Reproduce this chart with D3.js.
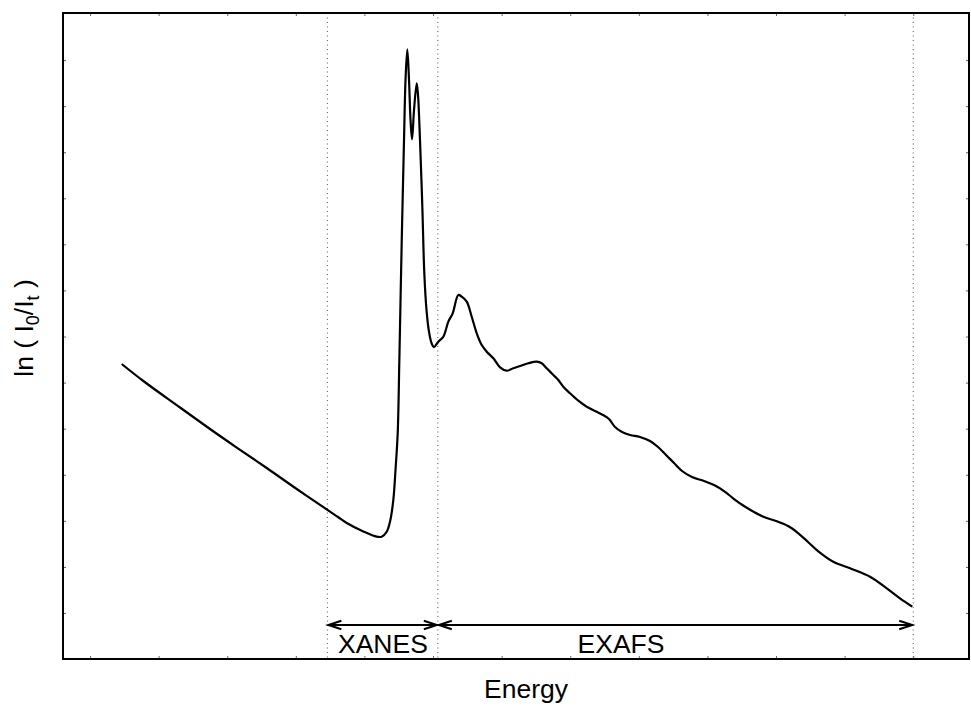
<!DOCTYPE html>
<html>
<head>
<meta charset="utf-8">
<script src="https://cdn.jsdelivr.net/npm/d3@7"></script>
<style>
  html, body { margin: 0; padding: 0; background: #fff; }
  svg { display: block; font-family: "Liberation Sans", Arial, Helvetica, sans-serif; }
</style>
</head>
<body>
<svg id="chart" width="971" height="706"></svg>
<script>
// Absorption spectrum: relative energy (eV) and ln(I0/It)
const energy = [
  46.2, 77.7, 131.2, 174.9, 213.8, 257.6, 301.3, 345.0, 361.5, 374.2,
  398.4, 417.9, 425.2, 432.5, 437.3, 442.1, 445.6, 448.5, 450.9, 454.4,
  457.7, 459.9, 462.5, 465.0, 467.2, 469.4, 472.3, 476.2, 478.1, 481.0,
  484.4, 487.3, 490.5, 494.2, 497.8, 501.4, 507.7, 515.0, 522.3, 528.7,
  536.9, 541.8, 549.1, 556.4, 563.7, 571.0, 578.3, 587.9, 597.7, 607.4,
  617.0, 626.8, 638.9, 651.2, 658.4, 665.7, 675.4, 682.6, 689.9, 699.7,
  711.8, 724.0, 736.1, 747.8, 756.5, 765.3, 775.5, 787.2, 801.7, 816.3,
  828.0, 839.6, 851.3, 863.0, 877.5, 895.0, 909.6, 924.2, 938.8, 953.3,
  967.9, 982.5, 1000.0, 1017.5, 1032.1, 1046.6, 1061.2, 1083.5, 1107.9, 1137.0,
  1161.4, 1180.7, 1198.7
];
const absorbance = [
  0.5404, 0.5035, 0.4460, 0.3993, 0.3591, 0.3147, 0.2691, 0.2250, 0.2083, 0.1953,
  0.1769, 0.1656, 0.1656, 0.1764, 0.1981, 0.2452, 0.3175, 0.3900, 0.5490, 0.8094,
  1.0265, 1.1567, 1.2233, 1.1567, 1.0699, 1.0280, 1.0916, 1.1495, 1.1241, 1.0265,
  0.8817, 0.7372, 0.6575, 0.6098, 0.5859, 0.5772, 0.5888, 0.5996, 0.6322, 0.6504,
  0.6901, 0.6864, 0.6756, 0.6430, 0.6070, 0.5816, 0.5671, 0.5527, 0.5332, 0.5258,
  0.5310, 0.5360, 0.5419, 0.5454, 0.5419, 0.5310, 0.5165, 0.5056, 0.4911, 0.4768,
  0.4607, 0.4477, 0.4384, 0.4297, 0.4210, 0.4036, 0.3928, 0.3863, 0.3819, 0.3733,
  0.3602, 0.3429, 0.3255, 0.3082, 0.2951, 0.2865, 0.2778, 0.2647, 0.2474, 0.2322,
  0.2192, 0.2083, 0.1996, 0.1888, 0.1736, 0.1541, 0.1345, 0.1113, 0.0970, 0.0788,
  0.0536, 0.0319, 0.0137
];

// Region boundaries (eV) and region labels
const regionBounds = [346, 507, 1200];
const regionNames = ["XANES", "EXAFS"];
const regionLabelAt = [427, 774];
const arrowLevel = -0.026;
const labelLevel = -0.087;

// Unlabelled tick positions
const xTicks = d3.range(0, 1201, 100);
const yTicks = d3.range(0, 1.2001, 0.1);

const svg = d3.select("#chart");
const box = { left: 63, top: 13, right: 969, bottom: 659 };

const x = d3.scaleLinear().domain([-39.4, 1281.3]).range([box.left, box.right]);
const y = d3.scaleLinear().domain([-0.0998, 1.3021]).range([box.bottom, box.top]);

// Inward ticks on all four sides
const tickStyle = g => {
  g.select(".domain").remove();
  g.selectAll(".tick line").attr("stroke", "#666").attr("stroke-width", 1);
};
svg.append("g").attr("transform", `translate(0,${box.bottom})`)
  .call(d3.axisBottom(x).tickValues(xTicks).tickSize(-3).tickFormat(""))
  .call(tickStyle);
svg.append("g").attr("transform", `translate(0,${box.top})`)
  .call(d3.axisTop(x).tickValues(xTicks).tickSize(-3).tickFormat(""))
  .call(tickStyle);
svg.append("g").attr("transform", `translate(${box.left},0)`)
  .call(d3.axisLeft(y).tickValues(yTicks).tickSize(-3).tickFormat(""))
  .call(tickStyle);
svg.append("g").attr("transform", `translate(${box.right},0)`)
  .call(d3.axisRight(y).tickValues(yTicks).tickSize(-3).tickFormat(""))
  .call(tickStyle);

// Dotted region boundaries
svg.append("g").selectAll("line").data(regionBounds).join("line")
  .attr("x1", d => x(d)).attr("x2", d => x(d))
  .attr("y1", box.top).attr("y2", box.bottom)
  .attr("stroke", "#555").attr("stroke-width", 1)
  .attr("stroke-dasharray", "1,3.5");

// Spectrum
const line = d3.line()
  .x((d, i) => x(energy[i]))
  .y(d => y(d))
  .curve(d3.curveCatmullRom.alpha(0.5));
svg.append("path")
  .datum(absorbance)
  .attr("d", line)
  .attr("fill", "none")
  .attr("stroke", "#000")
  .attr("stroke-width", 2.2)
  .attr("stroke-linejoin", "round");

// Double-headed arrows spanning each region
const headLen = 13, headHalf = 4.2;
const arrows = svg.append("g").attr("stroke", "#000").attr("stroke-width", 2).attr("fill", "none");
regionNames.forEach((name, i) => {
  const x0 = x(regionBounds[i]) + 1, x1 = x(regionBounds[i + 1]) - 1, ya = y(arrowLevel);
  arrows.append("line").attr("x1", x0).attr("x2", x1).attr("y1", ya).attr("y2", ya);
  arrows.append("path").attr("d", `M${x0 + headLen},${ya - headHalf}L${x0},${ya}L${x0 + headLen},${ya + headHalf}`);
  arrows.append("path").attr("d", `M${x1 - headLen},${ya - headHalf}L${x1},${ya}L${x1 - headLen},${ya + headHalf}`);
});

// Region labels
svg.append("g").selectAll("text").data(regionNames).join("text")
  .attr("x", (d, i) => x(regionLabelAt[i]))
  .attr("y", y(labelLevel))
  .attr("text-anchor", "middle")
  .attr("font-size", 26.5)
  .attr("fill", "#000")
  .text(d => d);

// Plot frame
svg.append("rect")
  .attr("x", box.left).attr("y", box.top)
  .attr("width", box.right - box.left).attr("height", box.bottom - box.top)
  .attr("fill", "none").attr("stroke", "#000").attr("stroke-width", 2);

// Axis titles
svg.append("text")
  .attr("x", 526).attr("y", 698)
  .attr("text-anchor", "middle").attr("font-size", 26.5)
  .text("Energy");

const yTitle = svg.append("text")
  .attr("transform", "translate(33,328) rotate(-90)")
  .attr("text-anchor", "middle").attr("font-size", 26.5);
yTitle.append("tspan").text("ln ( I");
yTitle.append("tspan").attr("font-size", 18).attr("dy", 6).text("0");
yTitle.append("tspan").attr("dy", -6).text("/I");
yTitle.append("tspan").attr("font-size", 18).attr("dy", 6).text("t");
yTitle.append("tspan").attr("dy", -6).text(" )");
</script>
</body>
</html>
